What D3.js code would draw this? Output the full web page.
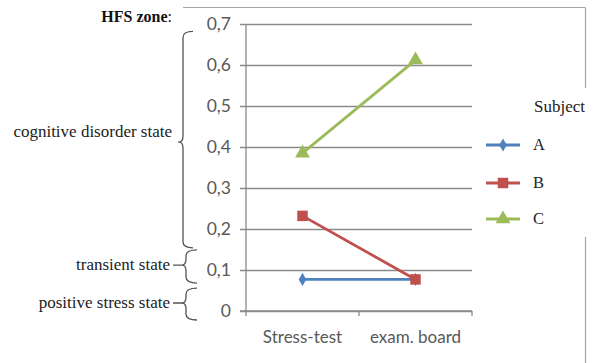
<!DOCTYPE html>
<html>
<head>
<meta charset="utf-8">
<script src="https://cdn.jsdelivr.net/npm/d3@7/dist/d3.min.js"></script>
<style>
  html, body { margin: 0; padding: 0; background: #fff; }
  svg { display: block; }
</style>
</head>
<body>
<svg id="chart" width="596" height="363"></svg>
<script>
// Measurement moments on the x axis
const categories = ["Stress-test", "exam. board"];
// HFS values for each subject
const seriesA = [0.077, 0.077];
const seriesB = [0.232, 0.077];
const seriesC = [0.385, 0.612];
const seriesNames = ["A", "B", "C"];
const yTicks = [0, 0.1, 0.2, 0.3, 0.4, 0.5, 0.6, 0.7];
// HFS zones marked by braces beside the value axis (value ranges)
const zoneLabels = ["cognitive disorder state", "transient state", "positive stress state"];
const zoneFrom = [0.154, 0.068, -0.022];
const zoneTo = [0.682, 0.149, 0.056];
const zoneTip = [0.412, 0.112, 0.0195];

const colors = ["#4F81BD", "#C0504D", "#9BBB59"];
const markers = [d3.symbolDiamond, d3.symbolSquare, d3.symbolTriangle];
const markerSizes = [50, 110, 95];

const svg = d3.select("#chart");
const sansFont = "Lato, 'Open Sans', sans-serif";
const serifFont = "'Liberation Serif', 'DejaVu Serif', serif";

const y = d3.scaleLinear().domain([0, 0.7]).range([311, 24]);
const x = d3.scaleBand().domain(categories).range([246, 472]);
const xc = c => x(c) + x.bandwidth() / 2;

const comma = d3.formatLocale({decimal: ",", thousands: " ", grouping: [3], currency: ["", ""]});
const fmt = d => d === 0 ? "0" : comma.format(".1f")(d);

// outer chart frame (partially drawn)
const frame = svg.append("g").attr("stroke", "#a6a6a6").attr("stroke-width", 1.2).attr("fill", "none");
frame.append("line").attr("x1", 183).attr("x2", 585.5).attr("y1", 7.5).attr("y2", 7.5);
frame.append("line").attr("x1", 585.5).attr("x2", 585.5).attr("y1", 7.5).attr("y2", 88);
frame.append("line").attr("x1", 585.5).attr("x2", 585.5).attr("y1", 237).attr("y2", 363);

// gridlines + y axis
const yAxis = d3.axisLeft(y).tickValues(yTicks).tickFormat(fmt).tickSize(-(472 - 246)).tickSizeOuter(0).tickPadding(10);
const gy = svg.append("g").attr("transform", "translate(246,0)").call(yAxis);
gy.select(".domain").remove();
gy.selectAll(".tick line").attr("stroke", "#8a8a8a").attr("stroke-width", 1.3).attr("x1", -6);
gy.selectAll(".tick text").attr("font-family", sansFont).attr("font-size", 17.5).attr("fill", "#595959").attr("x", -15);
svg.append("line").attr("x1", 246).attr("x2", 246).attr("y1", y(0.7)).attr("y2", 316)
  .attr("stroke", "#8a8a8a").attr("stroke-width", 1.3);

// x axis
const xAxis = d3.axisBottom(x).tickSize(0).tickPadding(20);
const gx = svg.append("g").attr("transform", `translate(0,${y(0)})`).call(xAxis);
gx.select(".domain").remove();
gx.selectAll(".tick text").attr("font-family", sansFont).attr("font-size", 17).attr("fill", "#595959");
svg.append("line").attr("x1", 240).attr("x2", 472).attr("y1", y(0)).attr("y2", y(0))
  .attr("stroke", "#8a8a8a").attr("stroke-width", 1.3);
x.domain().forEach(c => {
  const xe = x(c) + x.bandwidth();
  svg.append("line").attr("x1", xe).attr("x2", xe).attr("y1", y(0)).attr("y2", y(0) + 5)
    .attr("stroke", "#8a8a8a").attr("stroke-width", 1.3);
});

// series lines and markers
const allSeries = [seriesA, seriesB, seriesC];
const line = d3.line().x((d, i) => xc(categories[i])).y(d => y(d));
allSeries.forEach((vals, s) => {
  svg.append("path").datum(vals).attr("d", line).attr("fill", "none")
    .attr("stroke", colors[s]).attr("stroke-width", 2.8);
  svg.selectAll(null).data(vals).join("path")
    .attr("d", d3.symbol().type(markers[s]).size(markerSizes[s]))
    .attr("transform", (d, i) => `translate(${xc(categories[i])},${y(d)})`)
    .attr("fill", colors[s]);
});

// legend
svg.append("text").attr("x", 534).attr("y", 112).text("Subject")
  .attr("font-family", serifFont).attr("font-size", 17).attr("fill", "#222");
const legendY = [145, 183, 219];
seriesNames.forEach((n, s) => {
  const g = svg.append("g").attr("transform", `translate(0,${legendY[s]})`);
  g.append("line").attr("x1", 486).attr("x2", 520).attr("stroke", colors[s]).attr("stroke-width", 2.8);
  g.append("path").attr("d", d3.symbol().type(markers[s]).size(markerSizes[s])).attr("transform", "translate(503,0)")
    .attr("fill", colors[s]);
  g.append("text").attr("x", 533).attr("y", 5).text(n)
    .attr("font-family", serifFont).attr("font-size", 16.5).attr("fill", "#222");
});

// zone braces and labels
const title = svg.append("text").attr("x", 172).attr("y", 22).attr("text-anchor", "end")
  .attr("font-family", serifFont).attr("font-size", 16).attr("fill", "#111");
title.append("tspan").attr("font-weight", "bold").text("HFS zone");
title.append("tspan").text(":");

function brace(xv, y1, y2, ym, w, tip) {
  const r = 6;
  return `M${xv + w},${y1} Q${xv},${y1} ${xv},${y1 + r}` +
    ` L${xv},${ym - r} Q${xv},${ym} ${xv - 4},${ym} L${xv - tip},${ym}` +
    ` M${xv - 4},${ym} Q${xv},${ym} ${xv},${ym + r}` +
    ` L${xv},${y2 - r} Q${xv},${y2} ${xv + w},${y2}`;
}
const braceX = [183, 186, 186];
const braceW = [10, 11, 11];
const braceTipLen = [5, 13, 13];
const labelDy = [-10, 0, 0];
zoneLabels.forEach((lab, i) => {
  const y1 = y(zoneTo[i]), y2 = y(zoneFrom[i]), ym = y(zoneTip[i]);
  svg.append("path").attr("d", brace(braceX[i], y1, y2, ym, braceW[i], braceTipLen[i]))
    .attr("fill", "none").attr("stroke", "#555").attr("stroke-width", 1.3);
  svg.append("text").attr("x", i === 0 ? 172 : 170).attr("y", ym + labelDy[i] + 5).attr("text-anchor", "end")
    .attr("font-family", serifFont).attr("font-size", 17).attr("fill", "#222").text(lab);
});
</script>
</body>
</html>
